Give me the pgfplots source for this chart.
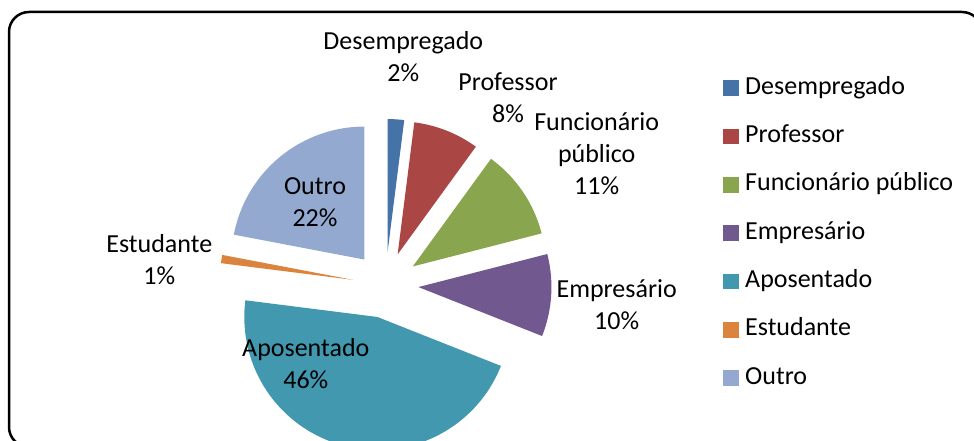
\documentclass[border=0pt]{standalone}
\usepackage{pgfplots}
\pgfplotsset{compat=1.18}
\usepackage{fontspec}
\setmainfont{Carlito}
\definecolor{cDes}{HTML}{4572A7}
\definecolor{cPro}{HTML}{AA4643}
\definecolor{cFun}{HTML}{89A54E}
\definecolor{cEmp}{HTML}{71588F}
\definecolor{cApo}{HTML}{4198AF}
\definecolor{cEst}{HTML}{DB843D}
\definecolor{cOut}{HTML}{93A9CF}
% pie geometry (in pixels of the reference)
\def\cx{385.5}\def\cy{285}\def\rad{133}\def\expl{33}
\gdef\cum{0}
% #1 = share in percent, #2 = colour, #3 = legend text
\newcommand\slice[3]{%
  \pgfmathsetmacro\sa{\cum*3.6}%
  \pgfmathsetmacro\sb{(\cum+#1)*3.6}%
  \pgfmathsetmacro\sm{(\sa+\sb)/2}%
  \pgfmathsetmacro\ox{\cx+\expl*sin(\sm)}%
  \pgfmathsetmacro\oy{\cy-\expl*cos(\sm)}%
  \edef\tmp{\noexpand\addplot[fill=#2, draw=none, domain=\sa:\sb, samples=90]
    ({\ox+\rad*sin(x)},{\oy-\rad*cos(x)}) -- (axis cs:\ox,\oy) -- cycle;}%
  \tmp
  \addlegendentry{#3}%
  \pgfmathsetmacro\newcum{\cum+#1}%
  \global\let\cum\newcum
}
\begin{document}
\begin{tikzpicture}
\begin{axis}[
  x=1pt, y=1pt, scale only axis,
  xmin=0, xmax=974, ymin=0, ymax=441, y dir=reverse,
  hide axis, clip=true,
  legend cell align=left,
  legend image code/.code={\fill[#1] (0pt,-7.85pt) rectangle (15.7pt,7.85pt);},
  legend style={at={(axis cs:723,76)}, anchor=north west, draw=none, fill=none,
    inner sep=0pt, row sep=24.3pt, column sep=6.3pt,
    font=\fontsize{26}{32}\selectfont,
    nodes={inner sep=0pt, text height=18pt, text depth=6pt}},
]
\slice{2}{cDes}{Desempregado}
\slice{8}{cPro}{Professor}
\slice{11}{cFun}{Funcionário público}
\slice{10}{cEmp}{Empresário}
\slice{46}{cApo}{Aposentado}
\slice{1}{cEst}{Estudante}
\slice{22}{cOut}{Outro}
\draw[line width=2.5pt, rounded corners=20pt] (axis cs:9,12) rectangle (axis cs:982,447);
\begin{scope}[every node/.style={align=center, font=\fontsize{26}{32}\selectfont, inner sep=0pt}]
\node at (axis cs:403.3,57) {Desempregado\\2\%};
\node at (axis cs:508,98) {Professor\\8\%};
\node at (axis cs:596.7,153.5) {Funcionário\\público\\11\%};
\node at (axis cs:616.7,305) {Empresário\\10\%};
\node at (axis cs:305.8,363.3) {Aposentado\\46\%};
\node at (axis cs:159.3,259.5) {Estudante\\1\%};
\node at (axis cs:315,202.5) {Outro\\22\%};
\end{scope}
\end{axis}
\pgfresetboundingbox
\useasboundingbox (current axis.south west) rectangle (current axis.north east);
\end{tikzpicture}
\end{document}
